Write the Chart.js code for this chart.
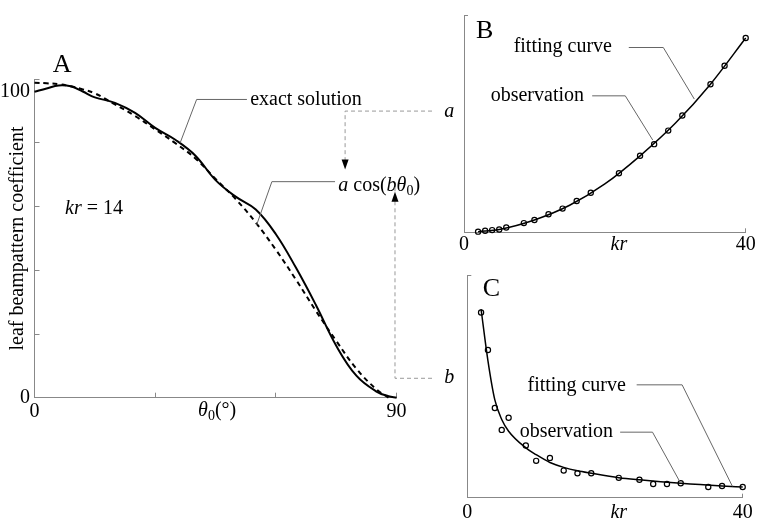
<!DOCTYPE html>
<html>
<head>
<meta charset="utf-8">
<script src="https://cdn.jsdelivr.net/npm/chart.js@4.4.1/dist/chart.umd.min.js"></script>
<style>
body { margin: 0; background: #fff; width: 760px; height: 523px; position: relative; overflow: hidden; }
canvas { position: absolute; }
</style>
</head>
<body>
<canvas id="chartA" width="460" height="523" style="left:0;top:0"></canvas>
<canvas id="chartB" width="305" height="260" style="left:455px;top:0"></canvas>
<canvas id="chartC" width="305" height="263" style="left:455px;top:260px"></canvas>
<script>
// panel A: leaf beampattern, exact vs a*cos(b*theta0), kr = 14
const thetaExact = [0, 3, 6, 9, 12, 15, 20, 25, 30, 35, 40, 45, 50, 55, 60, 65, 70, 75, 80, 85, 88, 90];
const exactSolution = [100.1, 101.2, 102.2, 101.9, 100.2, 98.3, 96.5, 93.2, 88.3, 84.4, 79.2, 71.2, 65.8, 61.6, 53.5, 42.5, 30.2, 17.0, 7.2, 2.0, 0.5, 0];
const thetaFit = [0, 3, 6, 9, 12, 15, 20, 25, 30, 35, 40, 45, 50, 55, 60, 65, 70, 75, 80, 85, 88];
const cosFit = [103.1, 102.9, 102.6, 101.9, 100.9, 99.6, 96.0, 92.2, 87.8, 83.3, 78.3, 71.6, 65.0, 57.3, 48.4, 38.6, 28.3, 18.6, 9.5, 2.7, 0];
const thetaTicks = [0, 30, 60, 90];
const yMaxA = 104.2;
const coefTicks = [0, 20.84, 41.68, 62.52, 83.36, 100, 104.2];

// panels B and C: fitted a and b against kr
const krObs = [2, 3, 4, 5, 6, 8.5, 10, 12, 14, 16, 18, 22, 25, 27, 29, 31, 35, 37, 40];
const aObs = [0.7, 1.7, 2.3, 3, 5, 9.7, 13, 19, 25, 33, 41.7, 62.3, 80.7, 93, 107.3, 123.3, 156.3, 175.7, 205];
const krFitA = [2, 5, 10, 15, 20, 25, 30, 35, 40];
const aFit = [0.7, 3, 13, 28.5, 51, 80.7, 115, 156.3, 205];
const bObs = [189.3, 151, 91.7, 69.3, 81.7, 53.3, 37.7, 40.7, 27.7, 25, 25, 20.3, 18.3, 14, 14, 14.7, 11, 12, 11];
const krFitB = [2, 3, 4, 5, 6, 8.5, 10, 12, 14, 16, 18, 22, 25, 31, 37, 40];
const bFit = [192.7, 140, 100, 80, 68, 51, 44, 36, 31, 27.5, 25, 20.5, 18.3, 14.7, 12, 11];
const krTicks = [0, 22, 40];
const yMaxB = 229.3;
const yMaxC = 227.7;

const FAMILY = '"Liberation Serif", "Times New Roman", serif';
const AXIS = '#888';
const LEADER = '#666';

function pts(xs, ys) { return xs.map((x, i) => ({ x: x, y: ys[i] })); }
function fnt(size, style) { return (style || 'normal') + ' ' + size + 'px ' + FAMILY; }

function runsWidth(ctx, runs, size) {
  let w = 0;
  runs.forEach(r => {
    ctx.font = fnt(r.sub ? size * 0.7 : size, r.s);
    w += ctx.measureText(r.t).width;
  });
  return w;
}

function drawRuns(ctx, runs, x, y, size, center) {
  ctx.save();
  ctx.fillStyle = '#000';
  ctx.textBaseline = 'middle';
  ctx.textAlign = 'left';
  if (center) x -= runsWidth(ctx, runs, size) / 2;
  runs.forEach(r => {
    const sz = r.sub ? size * 0.7 : size;
    ctx.font = fnt(sz, r.s);
    ctx.fillText(r.t, x, y + (r.sub ? size * 0.28 : 0));
    x += ctx.measureText(r.t).width;
  });
  ctx.restore();
}

function polyline(ctx, p, color, dash) {
  ctx.save();
  ctx.strokeStyle = color;
  ctx.lineWidth = 1;
  ctx.setLineDash(dash || []);
  ctx.beginPath();
  p.forEach((q, i) => i ? ctx.lineTo(q[0], q[1]) : ctx.moveTo(q[0], q[1]));
  ctx.stroke();
  ctx.restore();
}

function arrow(ctx, x, y, dir) {
  ctx.save();
  ctx.fillStyle = '#000';
  ctx.beginPath();
  ctx.moveTo(x, y);
  ctx.lineTo(x - 3.5, y - dir * 10);
  ctx.lineTo(x + 3.5, y - dir * 10);
  ctx.closePath();
  ctx.fill();
  ctx.restore();
}

const notesPlugin = {
  id: 'notes',
  afterDraw(chart) {
    const ctx = chart.ctx;
    const X = v => chart.scales.x.getPixelForValue(v);
    const Y = v => chart.scales.y.getPixelForValue(v);
    const P = list => list.map(q => [X(q[0]), Y(q[1])]);
    const which = chart.canvas.id;
    if (which === 'chartA') {
      drawRuns(ctx, [{ t: 'A' }], X(6.84), Y(108.8), 26, true);
      drawRuns(ctx, [{ t: 'exact solution' }], X(53.6), Y(97.4), 20);
      polyline(ctx, P([[52.8, 97.6], [40.3, 97.6], [36.2, 83.4]]), LEADER);
      drawRuns(ctx, [{ t: 'a', s: 'italic' }, { t: ' cos(' }, { t: 'b', s: 'italic' }, { t: 'θ', s: 'italic' }, { t: '0', sub: true }, { t: ')' }], X(75.5), Y(69.3), 20);
      polyline(ctx, P([[74.7, 70.7], [59.0, 70.7], [55.2, 56.5]]), LEADER);
      drawRuns(ctx, [{ t: 'kr', s: 'italic' }, { t: ' = 14' }], X(7.6), Y(61.7), 20);
      polyline(ctx, P([[98.8, 93.8], [77.2, 93.8], [77.2, 76.5]]), '#999', [4, 3]);
      arrow(ctx, X(77.2), Y(74.7), 1);
      drawRuns(ctx, [{ t: 'a', s: 'italic' }], X(103.1), Y(93.5), 20, true);
      polyline(ctx, P([[98.8, 6.35], [89.6, 6.35], [89.6, 69.5]]), '#999', [4, 3]);
      arrow(ctx, X(89.6), Y(67.4), -1);
      drawRuns(ctx, [{ t: 'b', s: 'italic' }], X(103.1), Y(6.4), 20, true);
      drawRuns(ctx, [{ t: 'θ', s: 'italic' }, { t: '0', sub: true }, { t: '(°)' }], X(45.4), Y(-4.35), 20, true);
    } else if (which === 'chartB') {
      drawRuns(ctx, [{ t: 'B' }], X(2.94), Y(212.3), 26, true);
      drawRuns(ctx, [{ t: 'fitting curve' }], X(7.05), Y(195.3), 20);
      polyline(ctx, P([[23.4, 195], [28.3, 195], [32.7, 140.6]]), LEADER);
      drawRuns(ctx, [{ t: 'observation' }], X(3.79), Y(144.3), 20);
      polyline(ctx, P([[18.2, 144], [22.9, 144], [26.8, 97.3]]), LEADER);
    } else {
      drawRuns(ctx, [{ t: 'C' }], X(3.51), Y(213.7), 26, true);
      drawRuns(ctx, [{ t: 'fitting curve' }], X(8.75), Y(114.7), 20);
      polyline(ctx, P([[24.6, 115.4], [31.2, 115.4], [38.5, 11.7]]), LEADER);
      drawRuns(ctx, [{ t: 'observation' }], X(7.6), Y(67.7), 20);
      polyline(ctx, P([[22.2, 67], [26.9, 67], [30.9, 16]]), LEADER);
    }
  }
};

Chart.defaults.font.family = FAMILY;
Chart.defaults.font.size = 20;
Chart.defaults.color = '#000';

const baseOptions = {
  responsive: false,
  animation: false,
  events: [],
  plugins: { legend: { display: false }, tooltip: { enabled: false } }
};

// panel A
new Chart(document.getElementById('chartA'), {
  type: 'line',
  data: {
    datasets: [
      { data: pts(thetaExact, exactSolution), borderColor: '#000', borderWidth: 2, pointRadius: 0, tension: 0.4, fill: false, clip: false },
      { data: pts(thetaFit, cosFit), borderColor: '#000', borderWidth: 2, borderDash: [5, 4], pointRadius: 0, tension: 0.4, fill: false, clip: false }
    ]
  },
  options: Object.assign({}, baseOptions, {
    layout: { padding: { left: 0, top: 79.3, right: 63.4, bottom: 0 } },
    scales: {
      x: {
        type: 'linear', min: 0, max: 90,
        afterBuildTicks: s => { s.ticks = thetaTicks.map(v => ({ value: v })); },
        afterFit: s => { s.height = 125.3; },
        ticks: { padding: 7, maxRotation: 0, autoSkip: false, callback: v => (v === 0 || v === 90) ? String(v) : '' },
        grid: { drawOnChartArea: false, tickLength: -5, tickColor: AXIS },
        border: { color: AXIS }
      },
      y: {
        type: 'linear', min: 0, max: yMaxA,
        afterBuildTicks: s => { s.ticks = coefTicks.map(v => ({ value: v })); },
        afterFit: s => { s.width = 34.5; },
        ticks: { padding: 9.5, autoSkip: false, callback: v => (v === 0 || v === 100) ? String(v) : '' },
        grid: { drawOnChartArea: false, tickLength: -5, tickColor: c => (c.tick && c.tick.value === 100) ? 'rgba(0,0,0,0)' : AXIS },
        border: { color: AXIS },
        title: { display: true, text: 'leaf beampattern coefficient', font: { size: 20, lineHeight: 1.2 }, padding: { top: 6, bottom: 0 } }
      }
    }
  }),
  plugins: [notesPlugin]
});

function smallScales(yMax, xHeight, labelPad) {
  return {
    x: {
      type: 'linear', min: 0, max: 40,
      afterBuildTicks: s => { s.ticks = krTicks.map(v => ({ value: v })); },
      afterFit: s => { s.height = xHeight; },
      ticks: {
        padding: labelPad, maxRotation: 0, autoSkip: false,
        font: c => ({ family: FAMILY, size: 20, style: (c.tick && c.tick.value === 22) ? 'italic' : 'normal' }),
        callback: v => v === 22 ? 'kr' : String(v)
      },
      grid: { drawOnChartArea: false, tickLength: -4, tickColor: c => (c.tick && c.tick.value === 40) ? AXIS : 'rgba(0,0,0,0)' },
      border: { color: AXIS }
    },
    y: {
      type: 'linear', min: 0, max: yMax,
      afterBuildTicks: s => { s.ticks = [{ value: 0 }, { value: yMax }]; },
      afterFit: s => { s.width = 8.2; },
      ticks: { callback: () => '' },
      grid: { drawOnChartArea: false, tickLength: -4, tickColor: AXIS },
      border: { color: AXIS }
    }
  };
}

function krDatasets(obs, fitX, fitY) {
  return [
    { data: pts(krObs, obs), showLine: false, pointRadius: 2.6, pointBorderWidth: 1.2, pointBorderColor: '#000', pointBackgroundColor: 'rgba(0,0,0,0)', clip: false },
    { data: pts(fitX, fitY), borderColor: '#000', borderWidth: 1.5, pointRadius: 0, cubicInterpolationMode: 'monotone', fill: false, clip: false }
  ];
}

// panel B: a against kr
new Chart(document.getElementById('chartB'), {
  type: 'line',
  data: { datasets: krDatasets(aObs, krFitA, aFit) },
  options: Object.assign({}, baseOptions, {
    layout: { padding: { left: 0, top: 3, right: 14.3, bottom: 0 } },
    scales: smallScales(yMaxB, 27.7, 4)
  }),
  plugins: [notesPlugin]
});

// panel C: b against kr
new Chart(document.getElementById('chartC'), {
  type: 'line',
  data: { datasets: krDatasets(bObs, krFitB, bFit) },
  options: Object.assign({}, baseOptions, {
    layout: { padding: { left: 0, top: 10, right: 14.3, bottom: 0 } },
    scales: smallScales(yMaxC, 25.3, 7.3)
  }),
  plugins: [notesPlugin]
});
</script>
</body>
</html>
